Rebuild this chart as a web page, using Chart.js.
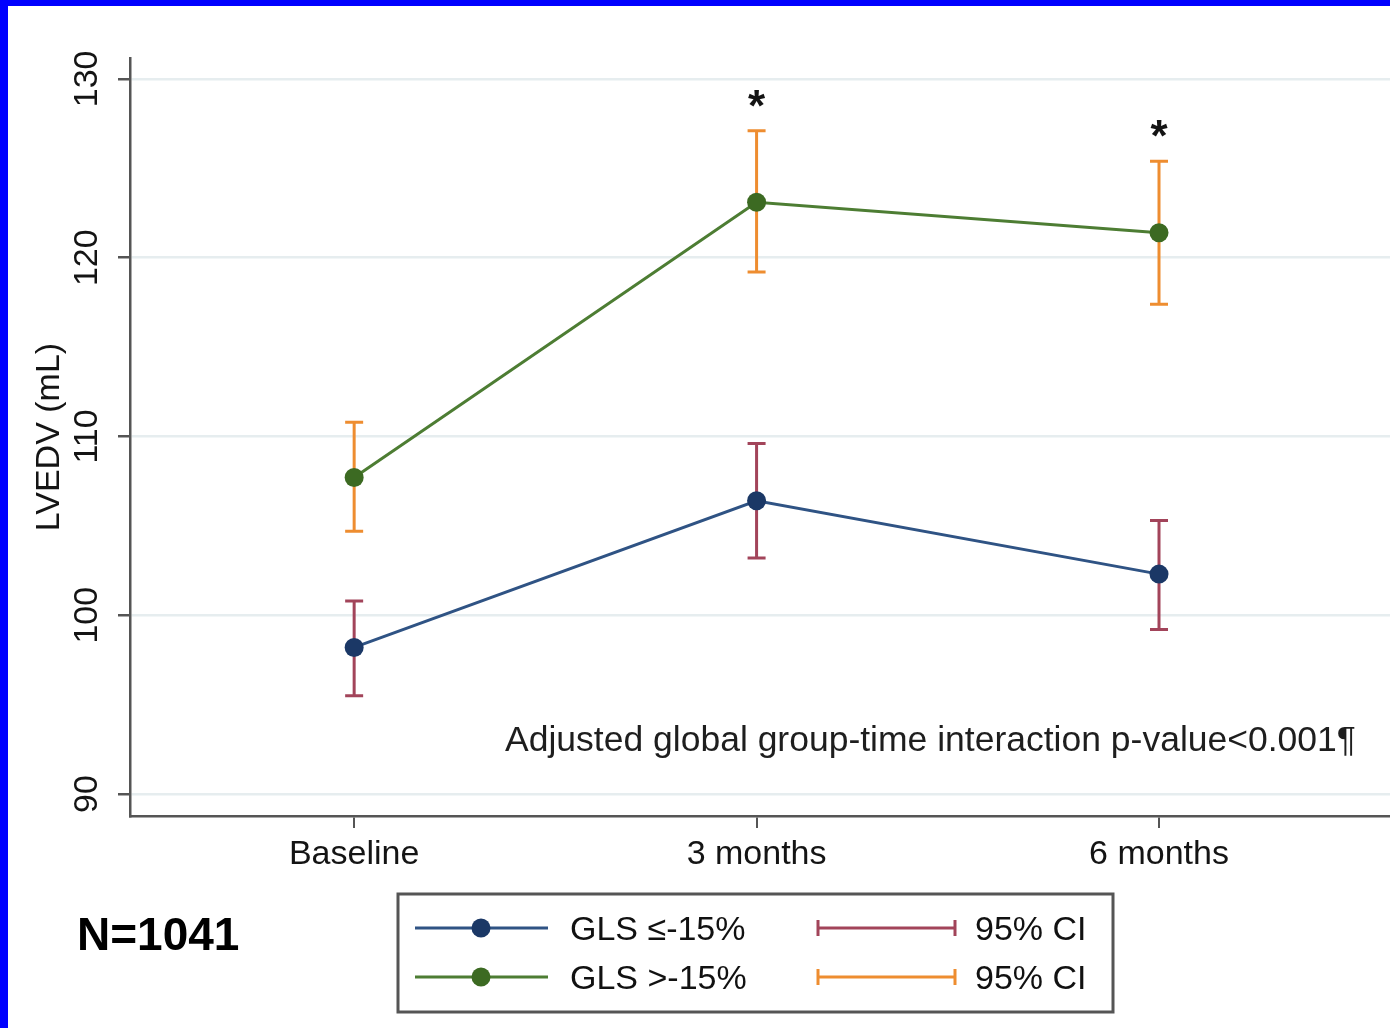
<!DOCTYPE html>
<html>
<head>
<meta charset="utf-8">
<title>LVEDV by GLS group</title>
<script src="https://cdn.jsdelivr.net/npm/chart.js@4.4.1/dist/chart.umd.min.js"></script>
<style>
  html, body { margin: 0; padding: 0; background: #ffffff; }
  #wrap { position: absolute; left: 0; top: 0; width: 1390px; height: 1028px; }
  canvas { display: block; }
</style>
</head>
<body>
<div id="wrap"><canvas id="chart" width="1390" height="1028"></canvas></div>
<script>
// Time points and tick labels
const categories = ['Baseline', '3 months', '6 months'];
const yTicks = [90, 100, 110, 120, 130];

// GLS ≤-15% : mean LVEDV with 95% CI
const glsLowMean  = [98.2, 106.4, 102.3];
const glsLowLower = [95.5, 103.2, 99.2];
const glsLowUpper = [100.8, 109.6, 105.3];

// GLS >-15% : mean LVEDV with 95% CI
const glsHighMean  = [107.7, 123.1, 121.4];
const glsHighLower = [104.7, 119.2, 117.4];
const glsHighUpper = [110.8, 127.1, 125.4];

// Significance markers for the GLS >-15% group
const significance = ['', '*', '*'];

const seriesNames = ['GLS \u2264-15%', 'GLS >-15%'];
const ciName = '95% CI';
const noteText = 'Adjusted global group-time interaction p-value<0.001\u00B6';
const sampleText = 'N=1041';

const FONT = '"Liberation Sans", Arial, Helvetica, sans-serif';
const C = {
  lowLine: '#2f5384', lowPoint: '#1b3866', lowCI: '#a2445a',
  highLine: '#4d7d33', highPoint: '#3c6a22', highCI: '#ee8d30',
  axis: '#555555', grid: '#e6edef', text: '#141414'
};

const toXY = arr => arr.map((v, i) => ({ x: i, y: v }));

// Error bars, drawn under the lines and markers
const errorBars = {
  id: 'errorBars',
  beforeDatasetsDraw(chart) {
    const { ctx, scales: { x, y } } = chart;
    const groups = [
      { lo: glsLowLower, hi: glsLowUpper, color: C.lowCI },
      { lo: glsHighLower, hi: glsHighUpper, color: C.highCI }
    ];
    ctx.save();
    ctx.lineWidth = 3;
    groups.forEach(g => {
      ctx.strokeStyle = g.color;
      g.lo.forEach((lo, i) => {
        const px = x.getPixelForValue(i);
        const y1 = y.getPixelForValue(lo);
        const y2 = y.getPixelForValue(g.hi[i]);
        ctx.beginPath();
        ctx.moveTo(px, y1); ctx.lineTo(px, y2);
        ctx.moveTo(px - 9, y1); ctx.lineTo(px + 9, y1);
        ctx.moveTo(px - 9, y2); ctx.lineTo(px + 9, y2);
        ctx.stroke();
      });
    });
    ctx.restore();
  }
};

// Rotated y tick labels, asterisks, note, legend, sample size and frame
const decorations = {
  id: 'decorations',
  beforeDraw(chart) {
    const { ctx, width, height } = chart;
    ctx.save();
    ctx.fillStyle = '#ffffff';
    ctx.fillRect(0, 0, width, height);
    ctx.restore();
  },
  afterDraw(chart) {
    const { ctx, width, scales: { x, y } } = chart;
    ctx.save();

    // y tick labels, rotated
    ctx.fillStyle = C.text;
    ctx.font = '34px ' + FONT;
    ctx.textAlign = 'center';
    ctx.textBaseline = 'middle';
    yTicks.forEach(v => {
      const py = y.getPixelForValue(v);
      ctx.save();
      ctx.translate(88, py);
      ctx.rotate(-Math.PI / 2);
      ctx.fillText(String(v), 0, 0);
      ctx.restore();
    });

    // significance asterisks above the upper CI
    ctx.font = 'bold 44px ' + FONT;
    ctx.textAlign = 'center';
    ctx.textBaseline = 'alphabetic';
    significance.forEach((s, i) => {
      if (!s) return;
      const px = x.getPixelForValue(i);
      const py = y.getPixelForValue(glsHighUpper[i]);
      ctx.fillText(s, px, py - 10);
    });

    // interaction note
    ctx.font = '35.5px ' + FONT;
    ctx.textAlign = 'left';
    ctx.textBaseline = 'middle';
    ctx.fillStyle = '#1e1e1e';
    ctx.fillText(noteText, 505, 741);

    // sample size
    ctx.font = 'bold 46px ' + FONT;
    ctx.fillStyle = '#000000';
    ctx.fillText(sampleText, 77, 937);

    // legend box
    ctx.strokeStyle = '#555555';
    ctx.lineWidth = 3;
    ctx.strokeRect(398, 894, 715, 118);

    const rows = [
      { line: C.lowLine, point: C.lowPoint, ci: C.lowCI, label: seriesNames[0], y: 928 },
      { line: C.highLine, point: C.highPoint, ci: C.highCI, label: seriesNames[1], y: 977 }
    ];
    ctx.font = '34px ' + FONT;
    rows.forEach(r => {
      ctx.strokeStyle = r.line;
      ctx.lineWidth = 3;
      ctx.beginPath(); ctx.moveTo(415, r.y); ctx.lineTo(548, r.y); ctx.stroke();
      ctx.fillStyle = r.point;
      ctx.beginPath(); ctx.arc(481, r.y, 9.5, 0, Math.PI * 2); ctx.fill();
      ctx.fillStyle = '#111111';
      ctx.fillText(r.label, 570, r.y + 3);

      ctx.strokeStyle = r.ci;
      ctx.beginPath();
      ctx.moveTo(818, r.y); ctx.lineTo(955, r.y);
      ctx.moveTo(818, r.y - 8); ctx.lineTo(818, r.y + 8);
      ctx.moveTo(955, r.y - 8); ctx.lineTo(955, r.y + 8);
      ctx.stroke();
      ctx.fillText(ciName, 975, r.y + 3);
    });

    // frame bands
    ctx.fillStyle = '#0000ff';
    ctx.fillRect(0, 0, width, 6);
    ctx.fillRect(0, 0, 8, chart.height);
    ctx.restore();
  }
};

new Chart(document.getElementById('chart'), {
  type: 'line',
  data: {
    datasets: [
      {
        label: seriesNames[0],
        data: toXY(glsLowMean),
        borderColor: C.lowLine,
        borderWidth: 3,
        pointRadius: 9.5,
        pointBorderWidth: 0,
        pointBackgroundColor: C.lowPoint,
        tension: 0
      },
      {
        label: seriesNames[1],
        data: toXY(glsHighMean),
        borderColor: C.highLine,
        borderWidth: 3,
        pointRadius: 9.5,
        pointBorderWidth: 0,
        pointBackgroundColor: C.highPoint,
        tension: 0
      }
    ]
  },
  options: {
    responsive: false,
    animation: false,
    devicePixelRatio: 1,
    layout: { autoPadding: false, padding: { top: 58, left: 0, right: 0, bottom: 0 } },
    plugins: { legend: { display: false }, tooltip: { enabled: false } },
    scales: {
      x: {
        type: 'linear',
        min: -0.557,
        max: 2.574,
        afterBuildTicks: s => { s.ticks = categories.map((c, i) => ({ value: i })); },
        afterFit: s => { s.height = 212; s.paddingLeft = 0; s.paddingRight = 0; },
        grid: { drawOnChartArea: false, drawTicks: true, tickLength: 12, tickColor: C.axis, lineWidth: 2 },
        border: { display: true, color: C.axis, width: 2.5 },
        ticks: {
          color: C.text,
          font: { family: FONT, size: 34 },
          padding: 6,
          autoSkip: false,
          maxRotation: 0,
          callback: v => categories[v]
        }
      },
      y: {
        type: 'linear',
        min: 88.77,
        max: 131.17,
        afterBuildTicks: s => { s.ticks = yTicks.map(v => ({ value: v })); },
        afterFit: s => { s.width = 130; s.paddingTop = 0; s.paddingBottom = 0; },
        grid: { color: C.grid, lineWidth: 2.5, drawTicks: true, tickLength: 12, tickColor: C.axis },
        border: { display: true, color: C.axis, width: 2.5 },
        ticks: { display: false },
        title: {
          display: true,
          text: 'LVEDV (mL)',
          color: C.text,
          font: { family: FONT, size: 34 },
          padding: { top: 29, bottom: 0 }
        }
      }
    }
  },
  plugins: [errorBars, decorations]
});
</script>
</body>
</html>
